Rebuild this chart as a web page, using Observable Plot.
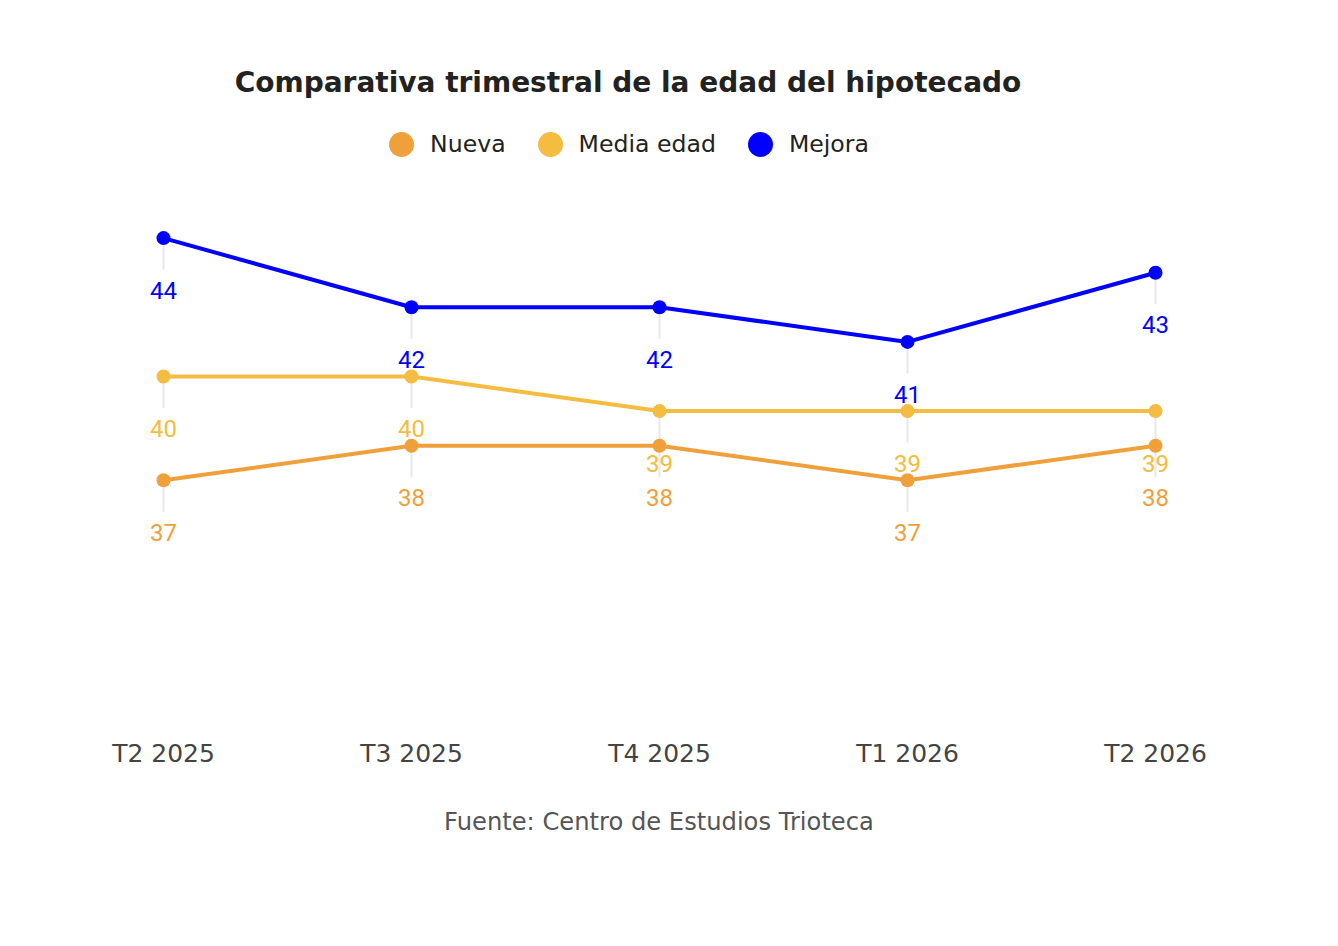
<!DOCTYPE html>
<html>
<head>
<meta charset="utf-8">
<script src="https://cdn.jsdelivr.net/npm/d3@7"></script>
<script src="https://cdn.jsdelivr.net/npm/@observablehq/plot@0.6"></script>
<style>
  html, body { margin: 0; padding: 0; background: #fff; }
  #wrap { position: relative; width: 1338px; height: 946px; }
  #title { position: absolute; left: 0; width: 1256px; top: 66px; text-align: center;
    font-family: "DejaVu Sans", sans-serif; font-weight: bold; font-size: 28px; color: #222; }
  #legend { position: absolute; left: 0; width: 1258px; top: 130px; display: flex; justify-content: center;
    font-family: "DejaVu Sans", sans-serif; font-size: 23.6px; color: #222; }
  .item { display: flex; align-items: center; margin: 0 16px; }
  .sw { width: 25px; height: 25px; border-radius: 50%; margin-right: 16px; }
  #chart { position: absolute; left: 0; top: 0; }
  #caption { position: absolute; left: 0; width: 1318px; top: 808px; text-align: center;
    font-family: "DejaVu Sans", sans-serif; font-size: 24.2px; color: #555; }
</style>
</head>
<body>
<div id="wrap">
  <div id="chart"></div>
  <div id="title">Comparativa trimestral de la edad del hipotecado</div>
  <div id="legend"></div>
  <div id="caption">Fuente: Centro de Estudios Trioteca</div>
</div>
<script>
const quarters = ["T2 2025", "T3 2025", "T4 2025", "T1 2026", "T2 2026"];
const seriesNames = ["Nueva", "Media edad", "Mejora"];
const seriesColors = ["#f0a03a", "#f4bc40", "#0000ff"];
const nueva = [37, 38, 38, 37, 38];
const mediaEdad = [40, 40, 39, 39, 39];
const mejora = [44, 42, 42, 41, 43];

const seriesValues = [nueva, mediaEdad, mejora];
const data = [];
seriesNames.forEach((s, i) => {
  quarters.forEach((q, j) => data.push({ serie: s, q, v: seriesValues[i][j] }));
});

const legend = document.getElementById("legend");
seriesNames.forEach((s, i) => {
  const it = document.createElement("div");
  it.className = "item";
  it.innerHTML = `<span class="sw" style="background:${seriesColors[i]}"></span><span>${s}</span>`;
  legend.appendChild(it);
});

const color = { domain: seriesNames, range: seriesColors };

const chart = Plot.plot({
  width: 1338,
  height: 800,
  marginTop: 203,
  marginBottom: 78,
  x: { type: "point", domain: quarters, range: [162, 1155], padding: 0, label: null },
  y: { domain: [30, 45], axis: null },
  color,
  style: { background: "transparent" },
  marks: [
    Plot.ruleX(data, { x: "q", y1: "v", y2: "v", insetBottom: -32, stroke: "#e8e8e8", strokeWidth: 2 }),
    Plot.line(data, { x: "q", y: "v", z: "serie", stroke: "serie", strokeWidth: 4 }),
    Plot.dot(data, { x: "q", y: "v", fill: "serie", r: 7 }),
    Plot.text(data, { x: "q", y: "v", text: d => String(d.v), fill: "serie", dy: 53,
      fontFamily: "Roboto, sans-serif", fontSize: 24 }),
    Plot.axisX({ tickSize: 0, tickPadding: 22, fontSize: 25, fontFamily: "DejaVu Sans, sans-serif",
      color: "#444", label: null })
  ]
});
document.getElementById("chart").appendChild(chart);
</script>
</body>
</html>
